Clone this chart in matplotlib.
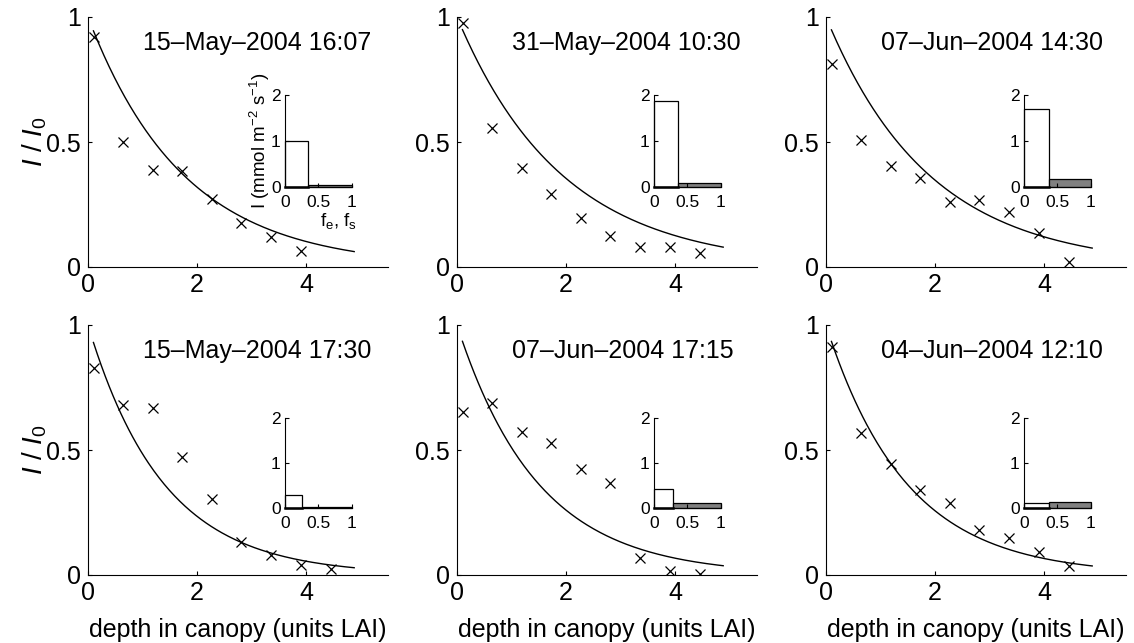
import numpy as np
import matplotlib
matplotlib.use("Agg")
import matplotlib.pyplot as plt

plt.rcParams["font.family"] = ["Liberation Sans", "DejaVu Sans"]
plt.rcParams["mathtext.fontset"] = "custom"
plt.rcParams["mathtext.rm"] = "Liberation Sans"
plt.rcParams["mathtext.it"] = "Liberation Sans:italic"

# panel titles (row-wise)
titles = ["15\u2013May\u20132004 16:07", "31\u2013May\u20132004 10:30", "07\u2013Jun\u20132004 14:30",
          "15\u2013May\u20132004 17:30", "07\u2013Jun\u20132004 17:15", "04\u2013Jun\u20132004 12:10"]

# measurement depths (LAI)
depth = [0.11, 0.65, 1.19, 1.73, 2.27, 2.81, 3.36, 3.91, 4.45]

# measured I/I0
obs_15may_1607 = [0.92, 0.50, 0.39, 0.385, 0.272, 0.177, 0.121, 0.065]
obs_31may_1030 = [0.977, 0.557, 0.395, 0.292, 0.195, 0.124, 0.081, 0.081, 0.055]
obs_07jun_1430 = [0.812, 0.508, 0.404, 0.355, 0.261, 0.27, 0.219, 0.135, 0.021]
obs_15may_1730 = [0.827, 0.68, 0.667, 0.471, 0.303, 0.133, 0.08, 0.04, 0.023]
obs_07jun_1715 = [0.653, 0.687, 0.573, 0.527, 0.424, 0.367, 0.069, 0.017, 0.004]
obs_04jun_1210 = [0.913, 0.567, 0.444, 0.34, 0.289, 0.18, 0.149, 0.093, 0.036]
observed = [obs_15may_1607, obs_31may_1030, obs_07jun_1430,
            obs_15may_1730, obs_07jun_1715, obs_04jun_1210]

# Beer's law extinction coefficient of fitted curve
k_ext = [0.571, 0.519, 0.529, 0.725, 0.675, 0.68]
lai_start, lai_end = 0.1, 4.88

# insets: fraction f_e and irradiance of the two components
frac_e = [0.34, 0.36, 0.37, 0.25, 0.28, 0.37]
irr_e = [1.0, 1.87, 1.70, 0.28, 0.42, 0.12]
irr_s = [0.05, 0.09, 0.17, 0.02, 0.11, 0.13]

W, H = 1134, 643
fig = plt.figure(figsize=(W / 100, H / 100), dpi=100)

col_left = [88, 457, 826]
row_top = [17, 325]
inset_left = [285, 654, 1024]
inset_top = [95, 418]
inset_bot = [187, 508]


def style(ax, size):
    for s in ["top", "right"]:
        ax.spines[s].set_visible(False)
    for s in ["left", "bottom"]:
        ax.spines[s].set_linewidth(0.8)
    ax.tick_params(direction="in", length=3, width=0.8, labelsize=size)


for i in range(6):
    r, c = divmod(i, 3)
    ax = fig.add_axes([col_left[c] / W, (H - row_top[r] - 250) / H, 300 / W, 250 / H])
    style(ax, 18)
    ax.tick_params(axis="x", pad=4)
    ax.tick_params(axis="y", pad=5)

    y = observed[i]
    ax.plot(depth[:len(y)], y, "x", color="black", ms=7, mew=0.9)
    xx = np.linspace(lai_start, lai_end, 200)
    ax.plot(xx, np.exp(-k_ext[i] * xx), color="black", lw=1.0)

    ax.set_xlim(0, 5.5)
    ax.set_ylim(0, 1)
    ax.set_xticks([0, 2, 4])
    ax.set_yticks([0, 0.5, 1])
    ax.set_yticklabels(["0", "0.5", "1"])
    ax.text(1.0, 0.895, titles[i], fontsize=18, ha="left", va="center")

    if c == 0:
        ax.set_ylabel(r"$\mathit{I\ /\ I_0}$", fontsize=20)
        ax.yaxis.set_label_coords(-0.13, 0.5)
    if r == 1:
        ax.set_xlabel("depth in canopy (units LAI)", fontsize=18)
        ax.xaxis.set_label_coords(0.5, -0.17)

    # inset bar chart
    ib, it = inset_bot[r], inset_top[r]
    ins = fig.add_axes([inset_left[c] / W, (H - ib) / H, 66.5 / W, (ib - it) / H])
    style(ins, 12.5)
    ins.tick_params(axis="x", pad=6)
    ins.tick_params(axis="y", pad=3)
    ins.bar([0], [irr_e[i]], width=frac_e[i], align="edge", facecolor="white",
            edgecolor="black", lw=0.9, clip_on=False)
    ins.bar([frac_e[i]], [irr_s[i]], width=1 - frac_e[i], align="edge", facecolor="#808080",
            edgecolor="black", lw=0.9, clip_on=False)
    ins.plot([0, frac_e[i]], [0, 0], color="black", lw=1.8, clip_on=False)
    ins.set_xlim(0, 1)
    ins.set_ylim(0, 2)
    ins.set_xticks([0, 0.5, 1])
    ins.set_xticklabels(["0", "0.5", "1"])
    ins.set_yticks([0, 1, 2])
    ins.patch.set_alpha(0)

    if i == 0:
        ins.set_ylabel(r"I (mmol m$^{-2}$ s$^{-1}$)", fontsize=13.5)
        ins.yaxis.set_label_coords(-0.2, 0.5)
        ins.set_xlabel(r"f$_\mathrm{e}$, f$_\mathrm{s}$", fontsize=13.5)
        ins.xaxis.set_label_coords(0.8, -0.26)

plt.savefig("out.png", dpi=100)
plt.close()
